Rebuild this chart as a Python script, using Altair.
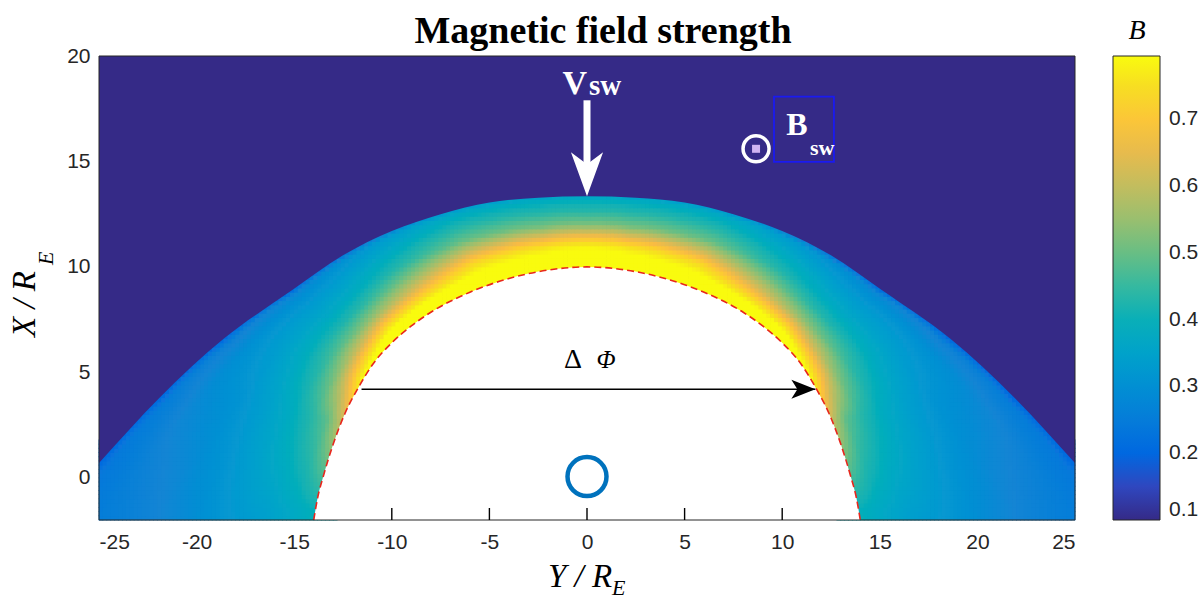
import numpy as np
import pandas as pd
import altair as alt

# plot-area size in pixels
W, H = 976, 464

# ---------------------------------------------------------------------------
# Data
# ---------------------------------------------------------------------------
# Magnetopause (red dashed boundary): half-width Y / R_E at height X / R_E
MP_Y = [0.0, 2.0, 4.0, 6.0, 8.0, 9.0, 10.0, 11.0, 11.7, 12.4, 13.0, 13.5, 13.8, 14.0]
MP_X = [10.0, 9.85, 9.45, 8.8, 7.85, 7.2, 6.4, 5.35, 4.3, 3.05, 1.6, 0.1, -0.95, -2.0]

# Bow shock (outer edge of the sheath)
BS_Y = [0.0, 2.5, 5.0, 7.5, 10.0, 12.5, 15.1, 18.6, 21.9, 25.0, 27.6, 29.5]
BS_X = [13.35, 13.28, 13.05, 12.5, 11.7, 10.55, 8.9, 6.6, 3.8, 0.7, -2.0, -4.0]

# Field strength across the sheath, sampled at fractional depth
# (0 = magnetopause, 1 = bow shock) along rays at several polar angles
DEPTH = [0.0, 0.08, 0.18, 0.3, 0.45, 0.6, 0.8, 0.95, 1.0]
ANGLE = [0, 30, 55, 68, 78, 96]
B_ANGLE_0 = [0.88, 0.85, 0.82, 0.78, 0.66, 0.52, 0.43, 0.39, 0.36]
B_ANGLE_30 = [0.88, 0.85, 0.80, 0.74, 0.62, 0.50, 0.42, 0.37, 0.33]
B_ANGLE_55 = [0.88, 0.82, 0.70, 0.55, 0.44, 0.38, 0.33, 0.29, 0.22]
B_ANGLE_68 = [0.80, 0.68, 0.54, 0.45, 0.39, 0.35, 0.31, 0.27, 0.21]
B_ANGLE_78 = [0.60, 0.49, 0.43, 0.38, 0.34, 0.31, 0.29, 0.26, 0.20]
B_ANGLE_96 = [0.40, 0.37, 0.34, 0.32, 0.29, 0.27, 0.25, 0.23, 0.20]
B_SOLAR_WIND = 0.1

# Colour bar
B_MIN, B_MAX = 0.1, 0.795
B_TICKS = [0.1, 0.2, 0.3, 0.4, 0.5, 0.6, 0.7]

# Axes
Y_TICKS = list(range(-25, 26, 5))
X_TICKS = [0, 5, 10, 15, 20]

# parula colour map (every 4th entry of the 64-colour table)
PARULA = ["#352a87", "#3243ba", "#0363e1", "#0d75dc", "#1485d4", "#0998d1",
          "#06a7c6", "#15b1b4", "#38b99e", "#65be86", "#92bf73", "#b7bd64",
          "#d9ba56", "#f8bb44", "#fcce2e", "#f5e41d", "#f9fb0e"]
PARULA_POS = [0, 4, 8, 12, 16, 20, 24, 28, 32, 36, 40, 44, 48, 52, 56, 60, 63]

# ---------------------------------------------------------------------------
# Build the sheath cells
# ---------------------------------------------------------------------------
def to_polar(ys, xs):
    ys, xs = np.asarray(ys, float), np.asarray(xs, float)
    return np.degrees(np.arctan2(ys, xs)), np.hypot(ys, xs)

mp_t, mp_r = to_polar(MP_Y, MP_X)
bs_t, bs_r = to_polar(BS_Y, BS_X)

step = 0.2
yc = np.arange(-25 + step / 2, 25, step)
xc = np.arange(-2 + step / 2, 20, step)
YY, XX = np.meshgrid(yc, xc)
theta = np.degrees(np.arctan2(np.abs(YY), XX))
rad = np.hypot(YY, XX)
r_in = np.interp(theta, mp_t, mp_r)
r_out = np.interp(theta, bs_t, bs_r)
depth = (rad - r_in) / (r_out - r_in)
inside = (depth >= -0.08) & (depth <= 1.08)

dv = np.clip(depth[inside], 0, 1)
tv = theta[inside]
profiles = np.array([np.interp(dv, DEPTH, p) for p in
                     (B_ANGLE_0, B_ANGLE_30, B_ANGLE_55, B_ANGLE_68,
                      B_ANGLE_78, B_ANGLE_96)])
ang = np.asarray(ANGLE, float)
k = np.clip(np.searchsorted(ang, tv) - 1, 0, len(ang) - 2)
w = np.clip((tv - ang[k]) / (ang[k + 1] - ang[k]), 0, 1)
n = np.arange(len(tv))
bval = profiles[k, n] * (1 - w) + profiles[k + 1, n] * w

half = step / 2 + 0.02
cells = pd.DataFrame({
    "ylo": np.round(YY[inside] - half, 3),
    "yhi": np.round(YY[inside] + half, 3),
    "xlo": np.round(XX[inside] - half, 3),
    "xhi": np.round(XX[inside] + half, 3),
    "B": np.round(bval, 3),
})

mp_full = pd.DataFrame({
    "Y": [-y for y in MP_Y[::-1]] + MP_Y[1:],
    "X": MP_X[::-1] + MP_X[1:],
})
bs_full = pd.DataFrame({
    "Y": [-y for y in BS_Y[::-1]] + BS_Y[1:],
    "X": BS_X[::-1] + BS_X[1:],
    "B": B_SOLAR_WIND,
})

# ---------------------------------------------------------------------------
# Scales / helpers
# ---------------------------------------------------------------------------
xs = alt.Scale(domain=[-25, 25], nice=False, zero=False)
ys = alt.Scale(domain=[-2, 20], nice=False, zero=False)
cdomain = [round(B_MIN + (B_MAX - B_MIN) * p / 63, 4) for p in PARULA_POS]
cscale = alt.Scale(domain=cdomain, range=PARULA, clamp=True)

SERIF = "Liberation Serif"
SANS = "Liberation Sans"
INK = "#262626"
one = pd.DataFrame({"k": [0]})

heat = alt.Chart(cells).mark_rect(strokeWidth=0).encode(
    x=alt.X("ylo:Q", scale=xs, axis=alt.Axis(
        values=Y_TICKS, ticks=False, domain=False, grid=False, title=None,
        labelFont=SANS, labelFontSize=21, labelColor=INK, labelPadding=11,
        labelExpr="datum.value + ''")),
    x2="yhi:Q",
    y=alt.Y("xlo:Q", scale=ys, axis=alt.Axis(
        values=X_TICKS, ticks=False, domain=False, grid=False, title=None,
        labelFont=SANS, labelFontSize=21, labelColor=INK, labelPadding=9,
        labelExpr="datum.value + ''")),
    y2="xhi:Q",
    color=alt.Color("B:Q", scale=cscale, legend=alt.Legend(
        orient="none", legendX=W + 38, legendY=0, title=None, direction="vertical",
        gradientLength=H, gradientThickness=47, values=B_TICKS, format=".1f",
        labelFont=SANS, labelFontSize=21, labelColor=INK, labelOffset=9,
        labelBaseline="middle", gradientStrokeColor=INK, gradientStrokeWidth=1,
        padding=0)),
)

# undisturbed solar wind upstream of the shock
upstream = alt.Chart(bs_full).mark_area(
    color="#352a87", interpolate="monotone", clip=True
).encode(x=alt.X("Y:Q", scale=xs), y=alt.Y("X:Q", scale=ys), y2=alt.datum(20))

# white interior of the magnetosphere
cavity = alt.Chart(mp_full).mark_area(color="white", interpolate="monotone").encode(
    x=alt.X("Y:Q", scale=xs), y=alt.Y("X:Q", scale=ys), y2=alt.datum(-2))

# inward ticks that show on the white interior
tick_df = pd.DataFrame({"t": [t for t in Y_TICKS if abs(t) < MP_Y[-1]]})
tick_df["base"] = -2.0
ticks = alt.Chart(tick_df).mark_point(
    shape="M0,-1 L0,1", size=144, filled=False, stroke="black",
    strokeWidth=1.4, opacity=1, yOffset=-6
).encode(x=alt.X("t:Q", scale=xs), y=alt.Y("base:Q", scale=ys))

mp_line = alt.Chart(mp_full).mark_line(
    color="#e8261c", strokeWidth=1.6, strokeDash=[7, 4], interpolate="monotone"
).encode(x=alt.X("Y:Q", scale=xs), y=alt.Y("X:Q", scale=ys))

# ---------------------------------------------------------------------------
# Annotations
# ---------------------------------------------------------------------------
VSW = {"Y": 0.0, "top": 17.9, "tip": BS_X[0]}
vsw_df = pd.DataFrame([VSW])
vsw_shaft = alt.Chart(vsw_df).mark_rule(color="white", strokeWidth=7, strokeCap="butt").encode(
    x=alt.X("Y:Q", scale=xs), y=alt.Y("top:Q", scale=ys), y2=alt.datum(14.6))
vsw_head = alt.Chart(vsw_df).mark_point(
    shape="M0,1 L-0.73,-1 L0,-0.45 L0.73,-1 Z", size=1936, filled=True,
    fill="white", opacity=1, strokeWidth=0, yOffset=-22
).encode(x=alt.X("Y:Q", scale=xs), y=alt.Y("tip:Q", scale=ys))

def label(txt, y, x, size, color="white", weight="bold", style="normal",
          align="center", font=SERIF):
    return alt.Chart(pd.DataFrame({"Y": [y], "X": [x], "txt": [txt]})).mark_text(
        font=font, fontSize=size, fontWeight=weight, fontStyle=style,
        color=color, align=align, baseline="alphabetic"
    ).encode(x=alt.X("Y:Q", scale=xs), y=alt.Y("X:Q", scale=ys), text="txt:N")

vsw_v = label("V", 0.0, 18.2, 34, align="right")
vsw_sw = label("sw", 0.1, 18.15, 29, align="left")

BSW = {"Y": 8.66, "X": 15.6}
bsw_df = pd.DataFrame([BSW])
bsw_ring = alt.Chart(bsw_df).mark_point(
    shape="circle", size=676, filled=False, color="white", strokeWidth=3.5, opacity=1
).encode(x=alt.X("Y:Q", scale=xs), y=alt.Y("X:Q", scale=ys))
bsw_dot = alt.Chart(bsw_df).mark_point(
    shape="square", size=64, filled=True, color="#d0b4f2", opacity=1
).encode(x=alt.X("Y:Q", scale=xs), y=alt.Y("X:Q", scale=ys))
box_df = pd.DataFrame({"y0": [9.58], "y1": [12.65], "x0": [14.98], "x1": [18.07]})
bsw_box = alt.Chart(box_df).mark_rect(filled=False, stroke="#1a1af0", strokeWidth=1.8).encode(
    x=alt.X("y0:Q", scale=xs), x2="y1:Q", y=alt.Y("x0:Q", scale=ys), y2="x1:Q")
bsw_b = label("B", 10.76, 16.26, 32)
bsw_sw = label("sw", 11.42, 15.32, 22, align="left")

DPHI = {"a": -11.55, "b": 11.7, "X": 4.2}
dphi_df = pd.DataFrame([DPHI])
dphi_shaft = alt.Chart(dphi_df).mark_rule(color="black", strokeWidth=1.5).encode(
    x=alt.X("a:Q", scale=xs), x2="b:Q", y=alt.Y("X:Q", scale=ys))
dphi_head = alt.Chart(dphi_df).mark_point(
    shape="M1,0 L-1,-0.8 L-0.5,0 L-1,0.8 Z", size=576, filled=True,
    fill="black", opacity=1, strokeWidth=0, xOffset=-12
).encode(x=alt.X("b:Q", scale=xs), y=alt.Y("X:Q", scale=ys))
dphi_d = label("Δ", -0.72, 5.22, 28, color="black", weight="normal")
dphi_p = label("Φ", 0.97, 5.22, 25, color="black", weight="normal", style="italic")

earth = alt.Chart(pd.DataFrame({"Y": [0.0], "X": [0.06]})).mark_point(
    shape="circle", size=1521, filled=False, color="#0072bd", strokeWidth=4.5, opacity=1
).encode(x=alt.X("Y:Q", scale=xs), y=alt.Y("X:Q", scale=ys))

frame = alt.Chart(one).mark_rect(filled=False, stroke=INK, strokeWidth=1).encode(
    x=alt.value(0), x2=alt.value(W), y=alt.value(0), y2=alt.value(H))

def ptext(txt, px, py, size, weight="normal", style="normal", align="center", angle=0):
    return alt.Chart(pd.DataFrame({"txt": [txt]})).mark_text(
        font=SERIF, fontSize=size, fontWeight=weight, fontStyle=style,
        color="black", align=align, baseline="alphabetic", angle=angle
    ).encode(x=alt.value(px), y=alt.value(py), text="txt:N")

title = ptext("Magnetic field strength", 504, -13, 38, weight="bold")
xlab = ptext("Y / R", 449, 531, 33, style="italic", align="left")
xlab_sub = ptext("E", 513, 539, 22, style="italic", align="left")
ylab = ptext("X / R", -64, 281, 33, style="italic", align="left", angle=270)
ylab_sub = ptext("E", -46, 209, 22, style="italic", align="left", angle=270)
cbar_title = ptext("B", 1038, -17, 28, style="italic")

chart = alt.layer(
    heat, upstream, cavity, mp_line,
    vsw_shaft, vsw_head, vsw_v, vsw_sw,
    bsw_ring, bsw_dot, bsw_box, bsw_b, bsw_sw,
    dphi_shaft, dphi_head, dphi_d, dphi_p,
    earth, frame, ticks,
    title, xlab, xlab_sub, ylab, ylab_sub, cbar_title,
).properties(
    width=W, height=H,
    autosize=alt.AutoSizeParams(type="none"),
    padding={"left": 99, "top": 56, "right": 126, "bottom": 80},
    background="white",
).configure_view(fill="#352a87", strokeWidth=0)

chart.save("out.html", embed_options={"renderer": "svg", "actions": False})
